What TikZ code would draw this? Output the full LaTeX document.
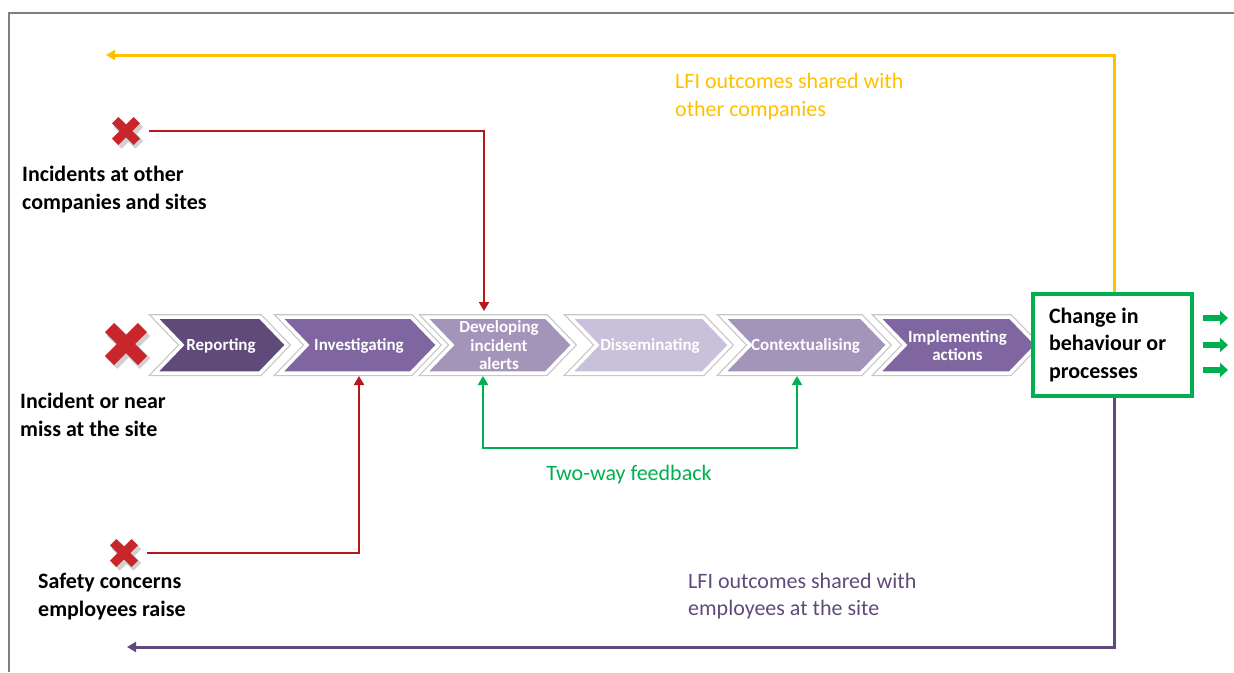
\documentclass[tikz,border=0pt]{standalone}
\usepackage{fontspec}
\setmainfont{Carlito}
\usetikzlibrary{arrows.meta,calc}
\definecolor{cA}{HTML}{5F4A7A}
\definecolor{cB}{HTML}{8066A0}
\definecolor{cC}{HTML}{A395BA}
\definecolor{cD}{HTML}{C9C1DA}
\definecolor{yel}{HTML}{FFC000}
\definecolor{pur}{HTML}{604A7B}
\definecolor{redl}{HTML}{B8161A}
\definecolor{xred}{HTML}{C8262B}
\definecolor{grn}{HTML}{00B050}
\definecolor{frm}{HTML}{7F7F7F}
\newcommand\mychev[5]{%
  \draw[chevbody, fill=#4] (#2,317) -- (#3-27,317) -- (#3,345) -- (#3-27,373) -- (#2,373) -- (#2+27,345) -- cycle;
  \node[chevtext] (#1) at ({(#2+#3)/2},345.5) {#5};
}
\newcommand\myx[5]{% name, x, y, half arm, thickness
  \node[minimum size=46, inner sep=0] (#1) at (#2,#3) {};
  \begin{scope}[shift={(#2+2.5,#3+3)}]
    \draw[black, opacity=.18, line width=#5+2] (-#4,-#4) -- (#4,#4) (-#4,#4) -- (#4,-#4);
  \end{scope}
  \begin{scope}[shift={(#2,#3)}]
    \draw[xred, line width=#5] (-#4,-#4) -- (#4,#4) (-#4,#4) -- (#4,-#4);
  \end{scope}
}
\begin{document}
\begin{tikzpicture}[x=1pt,y=-1pt,
  chevbody/.style={draw=white, line width=3.5, preaction={draw=black!22, line width=6}},
  chevtext/.style={text=white, font=\bfseries\fontsize{17}{18.5}\selectfont, align=center, inner sep=0},
  lbl/.style={anchor=west, align=left, inner sep=0, font=\bfseries\fontsize{22}{28}\selectfont},
  note/.style={anchor=west, align=left, inner sep=0, font=\fontsize{22}{27.5}\selectfont},
  tipA/.style={-{Triangle[width=10,length=9]}},
  redline/.style={draw=redl, line width=2, tipA},
  greenline/.style={draw=grn, line width=2, {Triangle[width=10,length=9]}-{Triangle[width=10,length=9]}},
  yelline/.style={draw=yel, line width=3, tipA},
  purline/.style={draw=pur, line width=3, tipA},
  smallarr/.style={draw=grn, line width=6, -{Triangle[width=14,length=8]}}
]
\useasboundingbox (0,0) rectangle (1234,672);
\draw[frm, line width=1.3] (9,672) -- (9,13) -- (1234,13);

% chevrons
\mychev{rep}{155}{287}{cA}{Reporting}
\mychev{inv}{280}{438}{cB}{Investigating}
\mychev{dev}{425}{573}{cC}{Developing\\incident\\alerts}
\mychev{dis}{570}{730}{cD}{Disseminating}
\mychev{ctx}{723}{888}{cC}{Contextualising}
\mychev{imp}{878}{1037}{cB}{Implementing\\actions}

% change box
\node[draw=grn, line width=4, fill=white, minimum width=159, minimum height=102,
      text width=127, align=flush left, inner sep=0,
      font=\bfseries\fontsize{22}{27.5}\selectfont] (change) at (1112.5,345)
      {\rule{0pt}{4pt}Change in\\behaviour or\\processes};

% small green arrows
\coordinate (sa1) at (1203,318); \coordinate (sb1) at (1228,318);
\coordinate (sa2) at (1203,345); \coordinate (sb2) at (1228,345);
\coordinate (sa3) at (1203,370); \coordinate (sb3) at (1228,370);
\draw[smallarr] (sa1) -- (sb1);
\draw[smallarr] (sa2) -- (sb2);
\draw[smallarr] (sa3) -- (sb3);

% X marks
\myx{x1}{126}{131}{10.8}{9}
\myx{x2}{126}{344}{16.5}{13}
\myx{x3}{124}{553}{10.8}{9}

% labels
\node[lbl] (l1) at (22,190) {Incidents at other\\companies and sites};
\node[lbl] (l2) at (20,415) {Incident or near\\miss at the site};
\node[lbl] (l3) at (38,596.5) {Safety concerns\\employees raise};
\node[note, text=yel] (ly) at (675,96.5) {LFI outcomes shared with\\other companies};
\node[note, text=pur] (lp) at (688,596) {LFI outcomes shared with\\employees at the site};
\node[note, anchor=center, text=grn] (lg) at (629,475) {Two-way feedback};

% connectors
\coordinate (devtop) at (484,311);
\coordinate (invbot) at (359,376);
\coordinate (devbot) at (483,376);
\coordinate (ctxbot) at (797,376);
\coordinate (ycorner) at (1114,55);
\coordinate (yend) at (106,55);
\coordinate (pcorner) at (1114,647);
\coordinate (pend) at (127,647);

\draw[redline] (x1.east) -| (devtop);
\draw[redline] (x3.east) -| (invbot);
\draw[greenline] (devbot) -- ++(0,72) -| (ctxbot);
\draw[yelline] (change.north -| ycorner) -- (ycorner) -- (yend);
\draw[purline] (change.south -| pcorner) -- (pcorner) -- (pend);
\end{tikzpicture}
\end{document}
